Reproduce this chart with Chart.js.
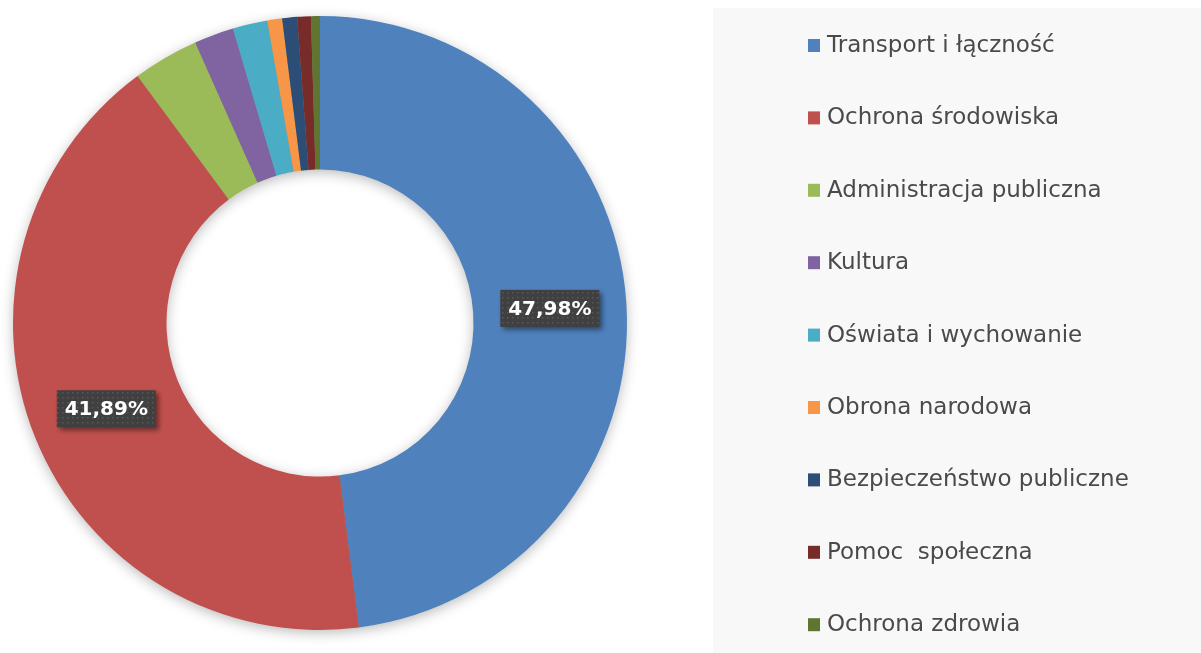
<!DOCTYPE html>
<html>
<head>
<meta charset="utf-8">
<script src="https://cdn.jsdelivr.net/npm/chart.js@4.4.1/dist/chart.umd.min.js"></script>
<style>
  html, body { margin: 0; padding: 0; background: #fff; }
</style>
</head>
<body>
<canvas id="chart" width="1201" height="653"></canvas>
<script>
const categories = [
    'Transport i łączność',
    'Ochrona środowiska',
    'Administracja publiczna',
    'Kultura',
    'Oświata i wychowanie',
    'Obrona narodowa',
    'Bezpieczeństwo publiczne',
    'Pomoc  społeczna',
    'Ochrona zdrowia'
];
const shares = [47.98, 41.89, 3.47, 2.08, 1.83, 0.78, 0.78, 0.72, 0.47];
const sliceColors = ['#4F81BD', '#C0504D', '#9BBB59', '#8064A2', '#4BACC6', '#F79646', '#2C4D75', '#772C2A', '#5F7530'];

// soft shadow under the whole ring
const ringShadow = {
    id: 'ringShadow',
    beforeDatasetsDraw(chart) {
        const arc = chart.getDatasetMeta(0).data[0];
        if (!arc) return;
        const { x, y, outerRadius, innerRadius } = arc.getProps(['x', 'y', 'outerRadius', 'innerRadius'], true);
        const ctx = chart.ctx;
        ctx.save();
        ctx.shadowColor = 'rgba(0,0,0,0.30)';
        ctx.shadowBlur = 14;
        ctx.shadowOffsetY = 3;
        ctx.fillStyle = '#888';
        ctx.beginPath();
        ctx.arc(x, y, outerRadius - 1, 0, Math.PI * 2);
        ctx.arc(x, y, innerRadius + 1, 0, Math.PI * 2, true);
        ctx.fill('evenodd');
        ctx.restore();
    }
};

function dotPattern(ctx) {
    const c = document.createElement('canvas');
    c.width = 5; c.height = 5;
    const p = c.getContext('2d');
    p.fillStyle = '#404040';
    p.fillRect(0, 0, 5, 5);
    p.fillStyle = '#585858';
    p.fillRect(2, 2, 1.5, 1.5);
    return ctx.createPattern(c, 'repeat');
}

// percentage boxes on the two big slices
const valueLabels = {
    id: 'valueLabels',
    afterDatasetsDraw(chart) {
        const ctx = chart.ctx;
        const meta = chart.getDatasetMeta(0);
        const pattern = dotPattern(ctx);
        ctx.save();
        ctx.font = 'bold 20px "DejaVu Sans"';
        ctx.textAlign = 'center';
        ctx.textBaseline = 'middle';
        meta.data.forEach((arc, i) => {
            const v = shares[i];
            if (v < 10) return;
            const pos = arc.tooltipPosition();
            const txt = v.toFixed(2).replace('.', ',') + '%';
            const w = 99, h = 37;
            ctx.save();
            ctx.shadowColor = 'rgba(0,0,0,0.45)';
            ctx.shadowBlur = 5;
            ctx.shadowOffsetX = 3;
            ctx.shadowOffsetY = 3;
            ctx.fillStyle = pattern;
            ctx.fillRect(pos.x - w / 2, pos.y - h / 2, w, h);
            ctx.restore();
            ctx.fillStyle = '#fff';
            ctx.fillText(txt, pos.x, pos.y + 1);
        });
        ctx.restore();
    }
};

// legend panel on the right
const sideLegend = {
    id: 'sideLegend',
    beforeDraw(chart) {
        const ctx = chart.ctx;
        ctx.save();
        ctx.fillStyle = '#f8f8f8';
        ctx.fillRect(713, 8, chart.width - 713, chart.height - 8);
        ctx.restore();
    },
    afterDraw(chart) {
        const ctx = chart.ctx;
        ctx.save();
        ctx.font = '23px "DejaVu Sans"';
        ctx.textBaseline = 'middle';
        ctx.textAlign = 'left';
        categories.forEach((name, i) => {
            const y = 45 + i * 72.4;
            ctx.fillStyle = sliceColors[i];
            ctx.fillRect(808, y - 6, 12, 13);
            ctx.fillStyle = '#4a4a4a';
            ctx.fillText(name, 827, y + 1);
        });
        ctx.restore();
    }
};

new Chart(document.getElementById('chart'), {
    type: 'doughnut',
    data: {
        labels: categories,
        datasets: [{
            data: shares,
            backgroundColor: sliceColors,
            borderWidth: 0
        }]
    },
    options: {
        responsive: false,
        animation: false,
        cutout: '50%',
        layout: { padding: { left: 13, top: 16, right: 574, bottom: 23 } },
        plugins: {
            legend: { display: false },
            tooltip: { enabled: false }
        }
    },
    plugins: [ringShadow, valueLabels, sideLegend]
});
</script>
</body>
</html>
